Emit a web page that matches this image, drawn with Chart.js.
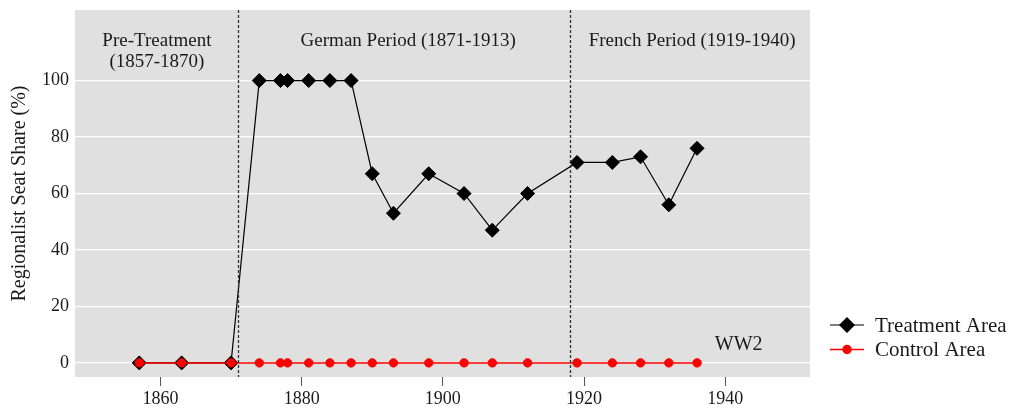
<!DOCTYPE html>
<html>
<head>
<meta charset="utf-8">
<script src="https://cdn.jsdelivr.net/npm/chart.js@4/dist/chart.umd.min.js"></script>
<style>
  body { margin: 0; background: #fff; }
</style>
</head>
<body>
<canvas id="myChart" width="1012" height="414"></canvas>
<script>
var years = [1857, 1863, 1870, 1874, 1877, 1878, 1881, 1884, 1887, 1890, 1893, 1898, 1903, 1907, 1912, 1919, 1924, 1928, 1932, 1936];
var treatmentArea = [0, 0, 0, 100, 100, 100, 100, 100, 100, 67, 53, 67, 60, 47, 60, 71, 71, 73, 56, 76];
var controlArea = [0, 0, 0, 0, 0, 0, 0, 0, 0, 0, 0, 0, 0, 0, 0, 0, 0, 0, 0, 0];
var xTicks = [1860, 1880, 1900, 1920, 1940];
var yTicks = [0, 20, 40, 60, 80, 100];
var periodBreaks = [1871, 1918];
var periodLabels = [['Pre-Treatment', '(1857-1870)'], ['German Period (1871-1913)'], ['French Period (1919-1940)']];
var seriesNames = ['Treatment Area', 'Control Area'];
var noteText = 'WW2';

var FONT = "'Liberation Serif', 'DejaVu Serif', serif";
Chart.defaults.font.family = FONT;
Chart.defaults.color = '#1a1a1a';

function toPoints(xs, ys) {
  return xs.map(function(x, i) { return { x: x, y: ys[i] }; });
}

// where the period captions sit, in data units
var labelSpots = [
  { x: 1859.5, y: [112.3, 104.8] },
  { x: 1895.1, y: [112.3] },
  { x: 1935.3, y: [112.3] }
];

var decorations = {
  id: 'decorations',
  beforeDraw: function(chart) {
    var a = chart.chartArea, ctx = chart.ctx;
    ctx.save();
    ctx.fillStyle = '#e0e0e0';
    ctx.fillRect(a.left, a.top, a.right - a.left, a.bottom - a.top);
    ctx.restore();
  },
  afterDatasetsDraw: function(chart) {
    var a = chart.chartArea, ctx = chart.ctx;
    var xs = chart.scales.x, ys = chart.scales.y;
    ctx.save();
    // period breaks
    ctx.strokeStyle = '#333';
    ctx.lineWidth = 1.3;
    ctx.setLineDash([3, 2]);
    periodBreaks.forEach(function(b) {
      var px = Math.round(xs.getPixelForValue(b)) + 0.5;
      ctx.beginPath();
      ctx.moveTo(px, a.top);
      ctx.lineTo(px, a.bottom);
      ctx.stroke();
    });
    ctx.setLineDash([]);
    // captions
    ctx.fillStyle = '#1a1a1a';
    ctx.textAlign = 'center';
    ctx.textBaseline = 'alphabetic';
    ctx.font = '19px ' + FONT;
    periodLabels.forEach(function(lines, i) {
      lines.forEach(function(t, j) {
        ctx.fillText(t, xs.getPixelForValue(labelSpots[i].x), ys.getPixelForValue(labelSpots[i].y[j]));
      });
    });
    ctx.font = '20px ' + FONT;
    ctx.fillText(noteText, xs.getPixelForValue(1941.9), ys.getPixelForValue(4.5));
    ctx.restore();
  },
  afterDraw: function(chart) {
    // legend, ggplot style: line through the marker
    var ctx = chart.ctx;
    var lx = 830, lw = 34, tx = 875;
    var rows = [325, 349.5];
    ctx.save();
    ctx.font = '21px ' + FONT;
    ctx.textBaseline = 'middle';
    ctx.textAlign = 'left';
    rows.forEach(function(y, i) {
      var col = i === 0 ? '#000' : '#ff0000';
      ctx.strokeStyle = col;
      ctx.lineWidth = i === 0 ? 1.2 : 1.5;
      ctx.beginPath();
      ctx.moveTo(lx, y);
      ctx.lineTo(lx + lw, y);
      ctx.stroke();
      ctx.fillStyle = col;
      ctx.beginPath();
      if (i === 0) {
        ctx.moveTo(lx + lw / 2 - 8, y);
        ctx.lineTo(lx + lw / 2, y - 8);
        ctx.lineTo(lx + lw / 2 + 8, y);
        ctx.lineTo(lx + lw / 2, y + 8);
        ctx.closePath();
      } else {
        ctx.arc(lx + lw / 2, y, 4.7, 0, Math.PI * 2);
      }
      ctx.fill();
      ctx.fillStyle = '#1a1a1a';
      ctx.fillText(seriesNames[i], tx, y + 1);
    });
    ctx.restore();
  }
};

var ctx = document.getElementById('myChart');
var chart = new Chart(ctx, {
  type: 'line',
  data: {
    datasets: [{
      label: seriesNames[0],
      data: toPoints(years, treatmentArea),
      borderColor: '#000',
      backgroundColor: '#000',
      borderWidth: 1.2,
      pointStyle: 'rectRot',
      pointRadius: 7,
      pointBorderWidth: 1,
      pointBorderColor: '#000',
      tension: 0,
      order: 2
    }, {
      label: seriesNames[1],
      data: toPoints(years, controlArea),
      borderColor: '#ff0000',
      backgroundColor: '#ff0000',
      borderWidth: 1.5,
      pointStyle: 'circle',
      pointRadius: 4.2,
      pointBorderWidth: 1,
      pointBorderColor: '#ff0000',
      tension: 0,
      order: 1
    }]
  },
  options: {
    responsive: false,
    animation: false,
    events: [],
    layout: { padding: { top: 10, right: 202, left: 0, bottom: 0 } },
    plugins: { legend: { display: false }, tooltip: { enabled: false } },
    scales: {
      x: {
        type: 'linear',
        min: 1847.9,
        max: 1952,
        afterBuildTicks: function(s) { s.ticks = xTicks.map(function(v) { return { value: v }; }); },
        afterFit: function(s) { s.height = 37; s.paddingLeft = 0; s.paddingRight = 0; },
        grid: { drawOnChartArea: false, drawTicks: true, tickLength: 9, color: '#555', lineWidth: 1 },
        border: { display: false },
        ticks: { padding: 2, maxRotation: 0, autoSkip: false, font: { size: 18 }, color: '#1a1a1a',
          callback: function(v) { return String(v); } }
      },
      y: {
        type: 'linear',
        min: -5,
        max: 125,
        afterBuildTicks: function(s) { s.ticks = yTicks.map(function(v) { return { value: v }; }); },
        afterFit: function(s) { s.width = 75; s.paddingTop = 0; s.paddingBottom = 0; },
        grid: { color: '#ffffff', lineWidth: 1.2, drawTicks: false },
        border: { display: false },
        ticks: { padding: 6, font: { size: 18 }, color: '#1a1a1a' },
        title: { display: true, text: 'Regionalist Seat Share (%)', font: { size: 20 }, color: '#1a1a1a',
          padding: { top: 8, bottom: 0 } }
      }
    }
  },
  plugins: [decorations]
});
</script>
</body>
</html>
